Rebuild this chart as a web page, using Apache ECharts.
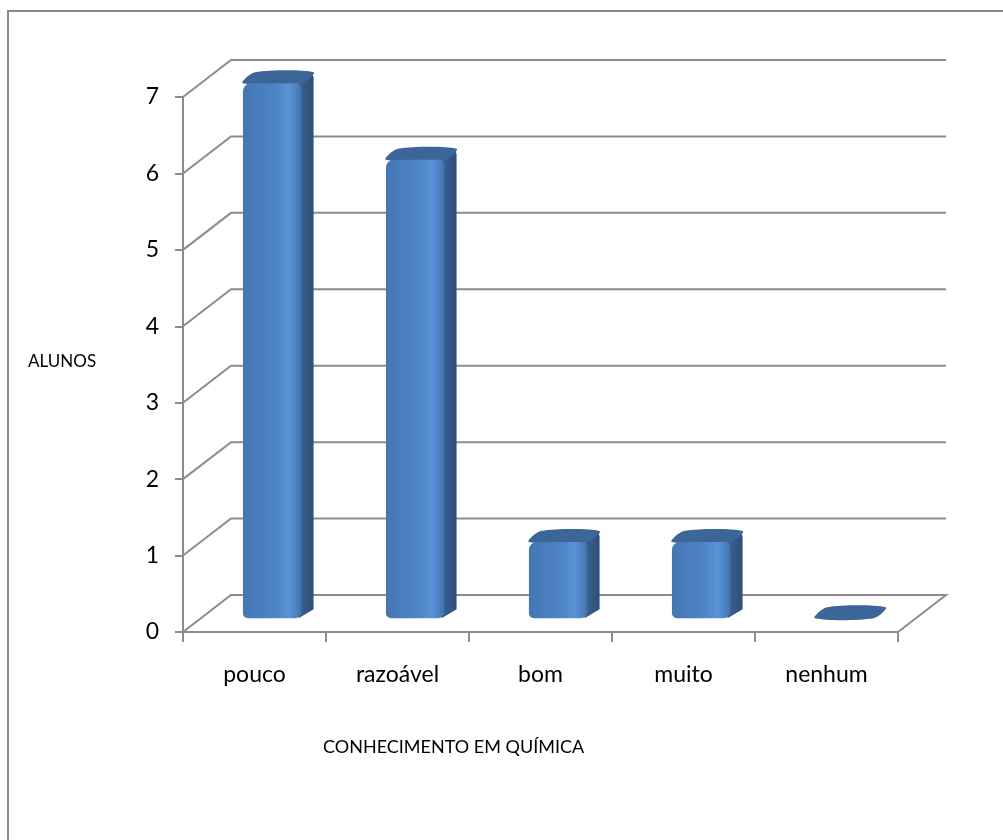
<!DOCTYPE html>
<html>
<head>
<meta charset="utf-8">
<script src="https://cdn.jsdelivr.net/npm/echarts@6/dist/echarts.min.js"></script>
<style>
  html, body { margin: 0; padding: 0; background: #fff; overflow: hidden; }
  #chart { width: 1003px; height: 840px; }
</style>
</head>
<body>
<div id="chart"></div>
<script>
// data
const categories = ["pouco", "razoável", "bom", "muito", "nenhum"];
const alunos = [7, 6, 1, 1, 0];
const yTickValues = [0, 1, 2, 3, 4, 5, 6, 7];

// 3d look: wall depth and bar depth (pixels)
const depthX = 48, depthY = -37;
const barDX = 12, barDY = -11;
const barShift = 0.37;
const lineColor = "#8c8c8c";

const chart = echarts.init(document.getElementById("chart"));

const wallItem = (params, api) => {
  const cs = params.coordSys;
  const v = api.value(1);
  const y = api.coord([0, v])[1];
  const x0 = cs.x, x1 = cs.x + cs.width;
  const pts = [[x0, y], [x0 + depthX, y + depthY], [x1 + depthX, y + depthY]];
  if (v === 0) pts.push([x1, y]);
  return {
    type: "polyline",
    shape: { points: pts },
    style: { stroke: lineColor, lineWidth: 2, fill: null },
    silent: true,
  };
};

const barItem = (params, api) => {
  const idx = api.value(0);
  const val = api.value(1);
  const top = api.coord([idx, val]);
  const base = api.coord([idx, 0]);
  const bw = api.size([1, 0])[0] * 0.41;
  const fx = top[0] - bw / 2 + depthX * barShift;
  const ty = top[1] + depthY * barShift;
  const by = base[1] + depthY * barShift;
  const h = by - ty;
  const children = [];
  if (h > 0) {
    children.push({
      type: "polygon",
      shape: {
        points: [
          [fx + bw - 3, ty],
          [fx + bw + barDX - 2, ty + barDY + 1],
          [fx + bw + barDX, ty + barDY + 5],
          [fx + bw + barDX, by + barDY + 2],
          [fx + bw - 3, by],
        ],
      },
      style: {
        fill: new echarts.graphic.LinearGradient(0, 0, 1, 0, [
          { offset: 0, color: "#3a6293" },
          { offset: 1, color: "#2e4f78" },
        ]),
      },
    });
  }
  children.push({
    type: "polygon",
    shape: {
      points: [
        [fx, ty],
        [fx + barDX, ty + barDY],
        [fx + bw + barDX, ty + barDY],
        [fx + bw, ty],
      ],
      smooth: 0.3,
    },
    style: { fill: "#3c6698" },
  });
  if (h > 0) {
    children.push({
      type: "rect",
      shape: { x: fx, y: ty, width: bw, height: h, r: [8, 5, 7, 5] },
      style: {
        fill: new echarts.graphic.LinearGradient(0, 0, 1, 0, [
          { offset: 0, color: "#4576b3" },
          { offset: 0.55, color: "#4d84c5" },
          { offset: 0.78, color: "#5993d8" },
          { offset: 0.92, color: "#4b80c0" },
          { offset: 1, color: "#3f6fa8" },
        ]),
      },
    });
  }
  return { type: "group", children };
};

chart.setOption({
  backgroundColor: "#fff",
  animation: false,
  textStyle: { fontFamily: "Lato" },
  graphic: [
    {
      type: "rect",
      shape: { x: 8, y: 11, width: 1100, height: 900 },
      style: { fill: null, stroke: "#8a8a8a", lineWidth: 2 },
      silent: true,
      z: -10,
    },
    {
      type: "text",
      left: 28,
      top: 353,
      style: { text: "ALUNOS", font: "17px Lato", fill: "#000" },
    },
    {
      type: "text",
      left: 323,
      top: 738,
      style: { text: "CONHECIMENTO EM QUÍMICA", font: "18px Lato", fill: "#000" },
    },
  ],
  grid: { left: 183, right: 105, top: 97, bottom: 208 },
  xAxis: {
    type: "category",
    data: categories,
    boundaryGap: true,
    axisLine: { show: true, lineStyle: { color: lineColor, width: 2 } },
    axisTick: { show: true, length: 10, lineStyle: { color: lineColor, width: 2 } },
    axisLabel: { color: "#000", fontSize: 23, fontFamily: "Lato", margin: 31 },
    splitLine: { show: false },
  },
  yAxis: {
    type: "value",
    min: 0,
    max: 7,
    interval: 1,
    axisLine: { show: true, lineStyle: { color: lineColor, width: 2 } },
    axisTick: { show: true, length: 8, lineStyle: { color: lineColor, width: 2 } },
    axisLabel: { color: "#000", fontSize: 23, fontFamily: "Lato", margin: 24 },
    splitLine: { show: false },
  },
  series: [
    {
      type: "custom",
      renderItem: wallItem,
      data: yTickValues.map((v) => [0, v]),
      encode: { x: 0, y: 1 },
      clip: false,
      silent: true,
      z: 1,
    },
    {
      type: "custom",
      renderItem: barItem,
      data: alunos.map((v, i) => [i, v]),
      encode: { x: 0, y: 1 },
      clip: false,
      z: 5,
    },
  ],
});
</script>
</body>
</html>
